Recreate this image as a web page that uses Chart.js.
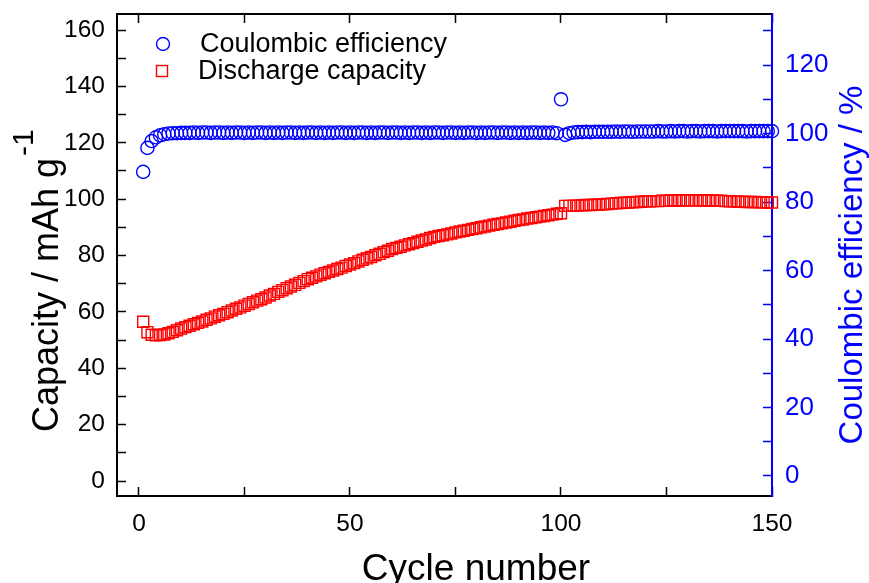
<!DOCTYPE html>
<html>
<head>
<meta charset="utf-8">
<script src="https://cdn.jsdelivr.net/npm/chart.js@4.4.1/dist/chart.umd.min.js"></script>
<style>
  html, body { margin: 0; padding: 0; background: #fff; }
  canvas { display: block; }
</style>
</head>
<body>
<canvas id="grafico" width="869" height="583"></canvas>
<script>
// === DADOS ===
const capacidade = [
  56.5, 52.8, 51.9, 51.7, 51.8, 52.0, 52.4, 52.9, 53.5, 54.1,
  54.6, 55.1, 55.6, 56.1, 56.6, 57.2, 57.7, 58.3, 58.8, 59.3,
  59.9, 60.5, 61.1, 61.6, 62.2, 62.8, 63.4, 64.0, 64.5, 65.1,
  65.8, 66.4, 67.1, 67.7, 68.4, 69.0, 69.6, 70.3, 70.9, 71.6,
  72.1, 72.6, 73.2, 73.7, 74.2, 74.7, 75.2, 75.7, 76.3, 76.8,
  77.3, 77.9, 78.5, 79.0, 79.5, 80.1, 80.6, 81.2, 81.7, 82.3,
  82.7, 83.1, 83.6, 84.0, 84.4, 84.9, 85.3, 85.7, 86.2, 86.6,
  86.9, 87.2, 87.5, 87.8, 88.2, 88.5, 88.8, 89.1, 89.4, 89.7,
  90.0, 90.3, 90.6, 90.9, 91.2, 91.4, 91.7, 92.0, 92.3, 92.6,
  92.8, 93.1, 93.3, 93.6, 93.8, 94.0, 94.3, 94.5, 94.8, 95.0,
  97.6, 97.6, 97.7, 97.7, 97.8, 97.9, 97.9, 98.0, 98.1, 98.2,
  98.3, 98.4, 98.5, 98.6, 98.7, 98.8, 98.9, 99.0, 99.1, 99.2,
  99.2, 99.3, 99.3, 99.4, 99.4, 99.5, 99.5, 99.5, 99.6, 99.6,
  99.6, 99.6, 99.6, 99.5, 99.5, 99.5, 99.4, 99.4, 99.3, 99.2,
  99.2, 99.1, 99.1, 99.0, 99.0, 99.0, 98.9, 98.9, 98.8, 98.8
];

const eficiencia = [
  88.8, 95.8, 97.8, 98.9, 99.5, 99.8, 100.0, 100.1, 100.1, 100.2,
  100.2, 100.2, 100.3, 100.2, 100.3, 100.3, 100.2, 100.3, 100.3, 100.2,
  100.3, 100.2, 100.3, 100.3, 100.2, 100.3, 100.2, 100.3, 100.3, 100.2,
  100.3, 100.2, 100.3, 100.2, 100.3, 100.3, 100.2, 100.3, 100.2, 100.3,
  100.3, 100.2, 100.3, 100.2, 100.3, 100.2, 100.3, 100.3, 100.2, 100.3,
  100.2, 100.3, 100.3, 100.2, 100.3, 100.2, 100.3, 100.3, 100.2, 100.3,
  100.3, 100.2, 100.3, 100.2, 100.3, 100.3, 100.2, 100.3, 100.2, 100.3,
  100.3, 100.2, 100.3, 100.3, 100.2, 100.3, 100.2, 100.3, 100.3, 100.2,
  100.3, 100.2, 100.3, 100.3, 100.2, 100.3, 100.3, 100.2, 100.3, 100.2,
  100.3, 100.2, 100.3, 100.3, 100.2, 100.3, 100.2, 100.3, 100.1, 110.0,
  99.6, 100.1, 100.3, 100.4, 100.4, 100.5, 100.4, 100.5, 100.5, 100.5,
  100.5, 100.5, 100.6, 100.5, 100.6, 100.6, 100.5, 100.6, 100.6, 100.6,
  100.6, 100.6, 100.7, 100.6, 100.6, 100.7, 100.6, 100.7, 100.7, 100.6,
  100.7, 100.7, 100.6, 100.7, 100.7, 100.7, 100.6, 100.7, 100.7, 100.7,
  100.7, 100.7, 100.7, 100.6, 100.7, 100.7, 100.7, 100.7, 100.7, 100.7
];

const rotuloEficiencia = "Coulombic efficiency";
const rotuloCapacidade = "Discharge capacity";
const tituloX = "Cycle number";
const tituloYEsq = "Capacity / mAh g";
const tituloYEsqSup = "-1";
const tituloYDir = "Coulombic efficiency / %";

const AZUL = "#0000ff";
const VERMELHO = "#ff0000";
const FONTE = "'Liberation Sans', Arial, sans-serif";

// === TITULOS E LEGENDA ===
const textosExtras = {
  id: "textosExtras",
  afterDraw(chart) {
    const ctx = chart.ctx;
    ctx.save();

    // legenda
    ctx.lineWidth = 1.4;
    ctx.strokeStyle = AZUL;
    ctx.beginPath();
    ctx.arc(163, 44, 6.5, 0, Math.PI * 2);
    ctx.stroke();
    ctx.strokeStyle = VERMELHO;
    ctx.strokeRect(156.5, 65.5, 11, 11);

    ctx.fillStyle = "#000";
    ctx.font = "27px " + FONTE;
    ctx.textBaseline = "middle";
    ctx.textAlign = "left";
    ctx.fillText(rotuloEficiencia, 200, 45);
    ctx.fillText(rotuloCapacidade, 198, 72);

    // titulo eixo x
    ctx.font = "37px " + FONTE;
    ctx.textAlign = "center";
    ctx.textBaseline = "alphabetic";
    ctx.fillText(tituloX, 476, 580);

    // titulo eixo y esquerdo (com expoente)
    ctx.save();
    ctx.translate(58, 432);
    ctx.rotate(-Math.PI / 2);
    ctx.textAlign = "left";
    ctx.font = "36px " + FONTE;
    ctx.fillText(tituloYEsq, 0, 0);
    const w = ctx.measureText(tituloYEsq).width;
    ctx.font = "30px " + FONTE;
    ctx.fillText(tituloYEsqSup, w + 2, -25);
    ctx.restore();

    // titulo eixo y direito
    ctx.save();
    ctx.translate(862, 265);
    ctx.rotate(-Math.PI / 2);
    ctx.fillStyle = AZUL;
    ctx.textAlign = "center";
    ctx.font = "33px " + FONTE;
    ctx.fillText(tituloYDir, 0, 0);
    ctx.restore();

    ctx.restore();
  }
};

document.addEventListener("DOMContentLoaded", () => {
  gerarGrafico();
});

// zera as folgas que o Chart.js reserva para os rotulos nas pontas
function fixarLargura(largura) {
  return (s) => {
    s.width = largura;
    s.paddingTop = 0;
    s.paddingBottom = 0;
  };
}

function fixarAltura(altura) {
  return (s) => {
    s.height = altura;
    s.paddingLeft = 0;
    s.paddingRight = 0;
  };
}

function gerarGrafico() {
  const ctx = document.getElementById("grafico").getContext("2d");

  new Chart(ctx, {
    type: "scatter",
    data: {
      datasets: [
        {
          label: rotuloEficiencia,
          data: eficiencia.map((v, i) => ({ x: i + 1, y: v })),
          yAxisID: "yDir",
          pointStyle: "circle",
          pointRadius: 6.6,
          pointBorderWidth: 1.4,
          pointBorderColor: AZUL,
          pointBackgroundColor: "rgba(0,0,0,0)",
          showLine: false,
          clip: false
        },
        {
          label: rotuloCapacidade,
          data: capacidade.map((v, i) => ({ x: i + 1, y: v })),
          yAxisID: "yEsq",
          pointStyle: "rect",
          pointRadius: 7.8,
          pointBorderWidth: 1.4,
          pointBorderColor: VERMELHO,
          pointBackgroundColor: "rgba(0,0,0,0)",
          showLine: false,
          clip: false
        }
      ]
    },
    options: {
      responsive: false,
      animation: false,
      events: [],
      layout: { padding: { top: 14, left: 0, right: 0, bottom: 0 } },
      plugins: {
        legend: { display: false },
        tooltip: { enabled: false }
      },
      scales: {
        x: {
          type: "linear",
          position: "bottom",
          min: -5.21,
          max: 150,
          afterFit: fixarAltura(87),
          border: { color: "#000", width: 2 },
          grid: { drawOnChartArea: false, tickLength: -9, tickColor: "#000", tickWidth: 1.5 },
          ticks: {
            stepSize: 25,
            includeBounds: false,
            autoSkip: false,
            maxRotation: 0,
            padding: 23,
            color: "#000",
            font: { family: FONTE, size: 24.5 },
            callback: (v) => (v % 50 === 0 ? v : "")
          }
        },
        xTopo: {
          type: "linear",
          position: "top",
          min: -5.21,
          max: 150,
          afterFit: fixarAltura(0),
          border: { color: "#000", width: 2 },
          grid: { drawOnChartArea: false, tickLength: -9, tickColor: "#000", tickWidth: 1.5 },
          ticks: { stepSize: 25, includeBounds: false, autoSkip: false, display: false }
        },
        yEsq: {
          type: "linear",
          position: "left",
          min: -5.32,
          max: 165.68,
          afterFit: fixarLargura(117),
          border: { color: "#000", width: 2 },
          grid: { drawOnChartArea: false, tickLength: -9, tickColor: "#000", tickWidth: 1.5 },
          ticks: {
            stepSize: 10,
            includeBounds: false,
            autoSkip: false,
            padding: 21,
            color: "#000",
            font: { family: FONTE, size: 24.5 },
            callback: (v) => (v % 20 === 0 ? v : "")
          }
        },
        yDir: {
          type: "linear",
          position: "right",
          min: -5.84,
          max: 134.9,
          afterFit: fixarLargura(97),
          border: { color: AZUL, width: 2 },
          grid: { drawOnChartArea: false, tickLength: -9, tickColor: AZUL, tickWidth: 1.5 },
          ticks: {
            stepSize: 10,
            includeBounds: false,
            autoSkip: false,
            padding: 22,
            color: AZUL,
            font: { family: FONTE, size: 26 },
            callback: (v) => (v % 20 === 0 && v <= 120 ? v : "")
          }
        }
      }
    },
    plugins: [textosExtras]
  });
}
</script>
</body>
</html>
